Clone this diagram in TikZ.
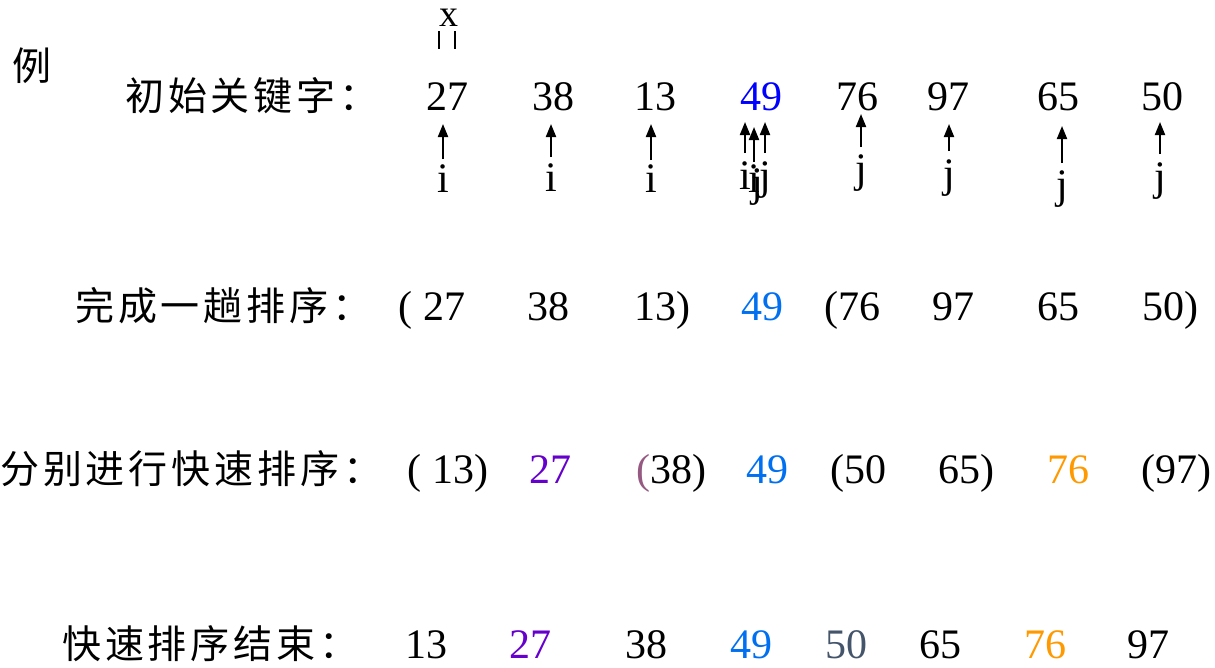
\documentclass[tikz,border=0pt]{standalone}
\usepackage{fontspec}
\setmainfont{Liberation Serif}
\newfontfamily\cjk[LetterSpace=10]{Noto Sans CJK SC}
\usetikzlibrary{arrows.meta}
\definecolor{keyblue}{RGB}{0,0,255}
\definecolor{pivblue}{RGB}{0,112,240}
\definecolor{subpurple}{RGB}{102,0,204}
\definecolor{suborange}{RGB}{255,153,0}
\definecolor{subslate}{RGB}{68,84,106}
\definecolor{parenmauve}{RGB}{150,90,130}

\begin{document}
\begin{tikzpicture}[x=1pt,y=-1pt,
  num/.style={anchor=base,inner sep=0pt,font=\fontsize{42}{48}\selectfont},
  lbl/.style={anchor=base west,inner sep=0pt,font=\cjk\fontsize{39}{46}\selectfont},
  ptr/.style={line width=2pt,-{Triangle[length=13pt,width=10pt]}}]
\path[use as bounding box] (0,0) rectangle (1215,667);

\node[lbl] (ex) at (12,80) {例};
\node[lbl] (lab1) at (125,110) {初始关键字：};
\node[lbl] (lab2) at (75,320) {完成一趟排序：};
\node[lbl] (lab3) at (0,483) {分别进行快速排序：};
\node[lbl] (lab4) at (62,658) {快速排序结束：};

% initial keys
\node[num] (k1) at (447,110) {27};
\node[num] (k2) at (553,110) {38};
\node[num] (k3) at (655,110) {13};
\node[num,text=keyblue] (k4) at (761,110) {49};
\node[num] (k5) at (857,110) {76};
\node[num] (k6) at (948,110) {97};
\node[num] (k7) at (1058,110) {65};
\node[num] (k8) at (1162,110) {50};

% pivot x
\node[num,font=\fontsize{38}{44}\selectfont] (px) at (449,26) {x};
\coordinate (bl) at (439,31);
\coordinate (br) at (455,31);
\draw[line width=1.6pt] (bl) -- ++(0,18) (br) -- ++(0,18);

% i / j pointers
\foreach \n/\x/\b/\t/\h/\c in {pa/443/192/159/124/i, pb/551/191/157/124/i,
    pc/651/192/160/124/i, pd/745/189/153/122/i, pe/754/192/162/127/i,
    pg/765/189/153/122/j, ph/861/182/147/114/j, pk/949/187/151/124/j,
    pm/1062/198/163/126/j, pn/1160/190/154/122/j}{
  \node[num] (\n) at (\x,\b) {\c};
  \draw[ptr] (\n.base) ++(0,\t-\b) -- ++(0,\h-\t);
}
\node[num] (pf) at (757,196) {j};

% after one pass
\node[num] (a1) at (432,320) {( 27};
\node[num] (a2) at (548,320) {38};
\node[num] (a3) at (662,320) {13)};
\node[num,text=pivblue] (a4) at (762,320) {49};
\node[num] (a5) at (852,320) {(76};
\node[num] (a6) at (953,320) {97};
\node[num] (a7) at (1058,320) {65};
\node[num] (a8) at (1170,320) {50)};

% sub-sorts
\node[num] (s1) at (448,483) {( 13)};
\node[num,text=subpurple] (s2) at (550,483) {27};
\node[num] (s3) at (671,483) {{\color{parenmauve}(}38)};
\node[num,text=pivblue] (s4) at (767,483) {49};
\node[num] (s5) at (858,483) {(50};
\node[num] (s6) at (966,483) {65)};
\node[num,text=suborange] (s7) at (1068,483) {76};
\node[num] (s8) at (1176,483) {(97)};

% sorted
\node[num] (f1) at (426,658) {13};
\node[num,text=subpurple] (f2) at (530,658) {27};
\node[num] (f3) at (646,658) {38};
\node[num,text=pivblue] (f4) at (751,658) {49};
\node[num,text=subslate] (f5) at (846,658) {50};
\node[num] (f6) at (940,658) {65};
\node[num,text=suborange] (f7) at (1045,658) {76};
\node[num] (f8) at (1148,658) {97};
\end{tikzpicture}
\end{document}
